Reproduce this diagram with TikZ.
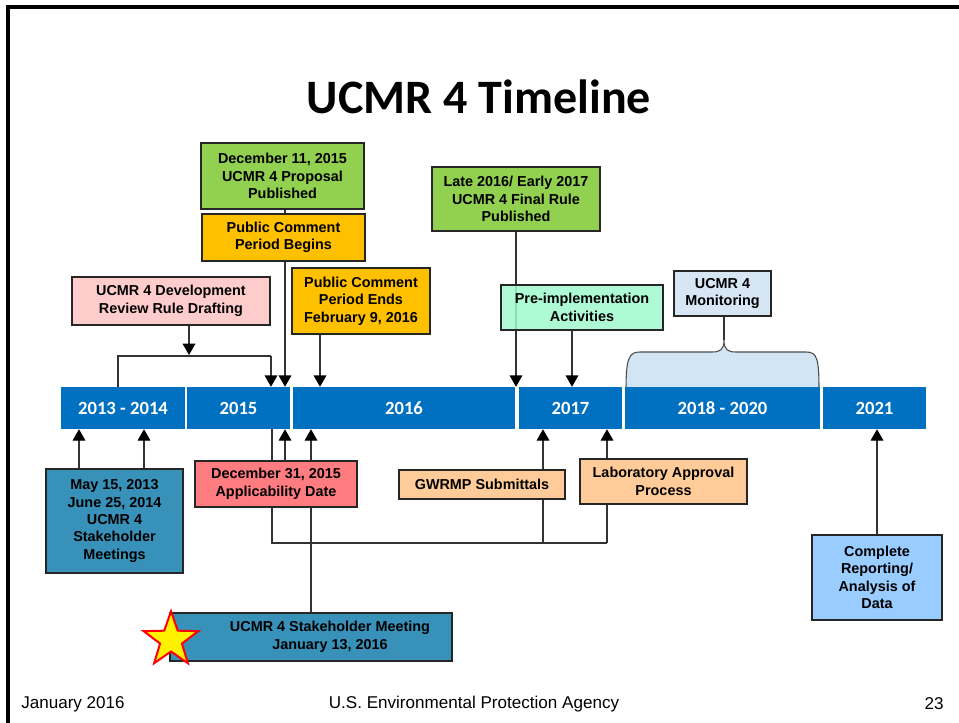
\documentclass[tikz,border=0pt]{standalone}
\usepackage{fontspec}
\setmainfont{Liberation Sans}
\newfontfamily\calfont{Carlito}
\usetikzlibrary{arrows.meta,fit}
\definecolor{barblue}{HTML}{0070C0}
\definecolor{cgreen}{HTML}{92D050}
\definecolor{corange}{HTML}{FFC000}
\definecolor{cpink}{HTML}{FFCCCC}
\definecolor{cmint}{HTML}{9FFACD}
\definecolor{cmon}{HTML}{D6E6F5}
\definecolor{cbrace}{HTML}{D2E5F5}
\definecolor{cteal}{HTML}{3791B9}
\definecolor{cred}{HTML}{FF7C80}
\definecolor{cpeach}{HTML}{FFCC99}
\definecolor{csky}{HTML}{99CCFF}
% box: name, x1, y1, x2, y2, fill options, text
\newcommand\tlbox[7]{%
  \node[box, fill=#6, fit={(#2,#3) (#4,#5)}] (#1) {};
  \node[boxtxt] (#1t) at (#1.center) {#7};}
\newcommand\tlseg[6]{%
  \node[seg, fit={(#2,#3) (#4,#5)}] (#1) {};
  \node[segtxt] (#1t) at (#1.center) {#6};}
\begin{document}
\begin{tikzpicture}[x=0.75pt,y=-0.75pt,
  box/.style={draw=black!85, line width=1.1pt, inner sep=0pt},
  boxtxt/.style={inner sep=0pt, align=center,
    font=\fontsize{10.8}{13.1}\selectfont\bfseries},
  seg/.style={fill=barblue, inner sep=0pt},
  segtxt/.style={inner sep=0pt, text=white,
    font=\calfont\fontsize{14}{16}\selectfont\bfseries},
  conn/.style={draw=black!80, line width=0.9pt},
  arr/.style={conn, -{Triangle[width=9.5pt,length=8.5pt,fill=black,color=black]}},
  foot/.style={font=\fontsize{12.8}{14}\selectfont, inner sep=0pt}
]
\useasboundingbox (0,0) rectangle (959,723);
\fill[white] (0,0) rectangle (959,723);
% frame
\draw[line width=2.6pt] (8,723) -- (8,7) -- (959,7);
% title
\node[font=\calfont\fontsize{36}{40}\selectfont\bfseries] (title) at (479,97) {UCMR 4 Timeline};

% brace behind the 2018-2020 segment
\tlbox{mon}{674}{271}{771}{316}{cmon}{UCMR 4\\Monitoring}
\filldraw[fill=cbrace, draw=black!70, line width=0.8pt]
  (626,390) .. controls (626,358) and (629,352) .. (640,352) -- (712,352)
  .. controls (720,352) and (724,350) .. (724,340)
  .. controls (724,350) and (728,352) .. (736,352) -- (806,352)
  .. controls (817,352) and (819,358) .. (819,390);
\draw[conn] (724,340) -- (724,0 |- mon.south);

% timeline segments
\tlseg{s1}{61}{387}{185}{429}{2013 - 2014}
\tlseg{s2}{187}{387}{290}{429}{2015}
\tlseg{s3}{293}{387}{515}{429}{2016}
\tlseg{s4}{519}{387}{622}{429}{2017}
\tlseg{s5}{625}{387}{820}{429}{2018 - 2020}
\tlseg{s6}{823}{387}{926}{429}{2021}

% upper boxes
\tlbox{prop}{201}{143}{364}{209}{cgreen}{December 11, 2015\\UCMR 4 Proposal\\Published}
\draw[arr] (285,0 |- prop.south) -- (285,0 |- s2.north);
\tlbox{pcb}{202}{214}{365}{261}{corange}{Public Comment\\Period Begins}

\tlbox{dev}{72}{277}{270}{325}{cpink}{UCMR 4 Development\\Review Rule Drafting}
\coordinate (brL) at (118,356);
\coordinate (brR) at (271,356);
\draw[conn] (brL |- s1.north) -- (brL) -- (brR);
\draw[arr] (brR) -- (brR |- s2.north);
\draw[arr] (189,0 |- dev.south) -- (189,355);

\tlbox{pce}{292}{268}{430}{334}{corange}{Public Comment\\Period Ends\\February 9, 2016}
\draw[arr] (320,0 |- pce.south) -- (320,0 |- s3.north);

\tlbox{fin}{432}{167}{600}{231}{cgreen}{Late 2016/ Early 2017\\UCMR 4 Final Rule\\Published}
\draw[arr] (516,0 |- fin.south) -- (516,0 |- s4.north);
\tlbox{pre}{501}{285}{663}{330}{cmint, fill opacity=0.85}{Pre-implementation\\Activities}
\draw[arr] (572,0 |- pre.south) -- (572,0 |- s4.north);

% lower connectors (behind boxes)
\coordinate (bkL) at (272,543);
\coordinate (bkM) at (543,543);
\coordinate (bkR) at (607,543);
\draw[conn] (bkL |- s2.south) -- (bkL) -- (bkR);
\draw[arr] (bkM) -- (bkM |- s4.south);
\draw[arr] (bkR) -- (bkR |- s4.south);

\node[box, fill=cteal, fit={(170,613) (452,661)}] (mtg) {};
\node[boxtxt, font=\fontsize{10.8}{13.5}\selectfont\bfseries] (mtgtxt) at (330,637) {UCMR 4 Stakeholder Meeting\\January 13, 2016};
\draw[arr] (311,0 |- mtg.north) -- (311,0 |- s3.south);

% lower boxes
\tlbox{stk}{46}{469}{183}{573}{cteal}{May 15, 2013\\June 25, 2014\\UCMR 4\\Stakeholder\\Meetings}
\draw[arr] (79,0 |- stk.north) -- (79,0 |- s1.south);
\draw[arr] (144,0 |- stk.north) -- (144,0 |- s1.south);

\tlbox{app}{195}{461}{357}{507}{cred}{December 31, 2015\\Applicability Date}
\draw[arr] (285,0 |- app.north) -- (285,0 |- s2.south);

\tlbox{gw}{399}{470}{565}{499}{cpeach}{GWRMP Submittals}
\tlbox{lab}{580}{459}{747}{504}{cpeach}{Laboratory Approval\\Process}

\tlbox{cmp}{812}{535}{942}{620}{csky}{Complete\\Reporting/\\Analysis of\\Data}
\draw[arr] (877,0 |- cmp.north) -- (877,0 |- s6.south);

% star
\filldraw[fill=yellow, draw=red, line width=1.5pt, line join=miter]
  (171,640) +(-90:28.7) -- +(-54:11.5) -- +(-18:28.7) -- +(18:11.5) -- +(54:28.7)
  -- +(90:11.5) -- +(126:28.7) -- +(162:11.5) -- +(198:28.7) -- +(234:11.5) -- cycle;

% footer
\node[foot] (f1) at (73,704) {January 2016};
\node[foot] (f2) at (474,704) {U.S. Environmental Protection Agency};
\node[foot] (f3) at (934,704) {23};
\end{tikzpicture}
\end{document}
